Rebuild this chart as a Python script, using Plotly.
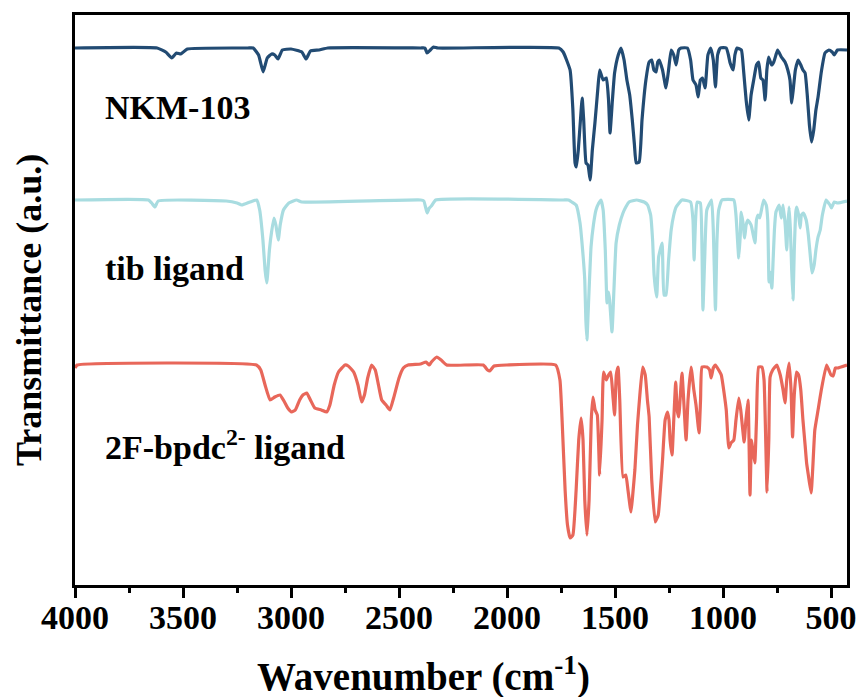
import plotly.graph_objects as go

# Wavenumber (cm-1) and plotted signal (a.u., larger = deeper absorption, axis inverted)
nkm_wn = [4000, 3620, 3580, 3552, 3530, 3510, 3480, 3200, 3175, 3150, 3129, 3110, 3090, 3075, 3060, 3040, 3000, 2950, 2930, 2910, 2870, 2830, 2400, 2380, 2370, 2355, 2340, 2320,
          1760, 1740, 1708, 1695, 1685, 1679, 1670, 1660, 1652, 1645, 1634, 1625, 1615, 1605, 1593, 1580, 1571, 1555, 1540, 1530, 1523, 1512, 1502, 1485, 1472, 1458, 1445, 1432,
          1420, 1410, 1402, 1388, 1375, 1357, 1342, 1330, 1320, 1310, 1302, 1295, 1280, 1264, 1252, 1240, 1228, 1217, 1205, 1194, 1165, 1150, 1139, 1125, 1115, 1105, 1095, 1083,
          1070, 1057, 1045, 1035, 1025, 1013, 985, 975, 967, 953, 945, 935, 915, 905, 893, 881, 870, 858, 845, 835, 825, 815, 805, 797, 789, 775, 765, 755, 747, 730, 713, 700,
          690, 682, 675, 665, 652, 640, 630, 620, 610, 600, 590, 580, 570, 560, 545, 528, 510, 495, 485, 470, 426]
nkm_sig = [48, 48, 52, 58, 53, 54, 49, 48, 48, 55, 72, 58, 54, 55, 59, 50, 49, 52, 59, 51, 50, 48, 48, 48, 53, 50, 47, 48,
           48, 52, 70, 110, 163, 167, 150, 120, 98, 120, 163, 165, 180, 150, 123, 90, 70, 80, 78, 100, 133, 100, 73, 55, 48, 60, 80, 95,
           120, 145, 163, 162, 120, 80, 62, 60, 70, 72, 62, 60, 70, 88, 70, 50, 55, 65, 50, 48, 48, 60, 80, 85, 97, 80, 78, 88,
           55, 48, 60, 87, 55, 48, 48, 55, 63, 70, 55, 48, 50, 70, 100, 120, 95, 80, 65, 62, 78, 80, 100, 70, 57, 65, 62, 55, 50, 57, 62, 70,
           80, 103, 90, 70, 60, 65, 70, 73, 95, 125, 142, 130, 110, 97, 72, 53, 50, 52, 55, 50, 50]

tib_wn = [4000, 3660, 3645, 3630, 3615, 3300, 3250, 3228, 3190, 3159, 3145, 3130, 3120, 3112, 3100, 3090, 3079, 3070, 3059, 3050, 3035, 3010, 2974, 2950, 2400, 2385, 2370, 2360, 2350, 2330,
          1740, 1715, 1700, 1680, 1662, 1650, 1640, 1635, 1630, 1622, 1611, 1600, 1588, 1575, 1565, 1555, 1545, 1537, 1530, 1525, 1514, 1505, 1495, 1480, 1463, 1450, 1435, 1400,
          1365, 1349, 1335, 1326, 1319, 1307, 1298, 1282, 1273, 1264, 1252, 1240, 1228, 1217, 1190, 1150, 1139, 1134, 1127, 1120, 1105, 1098, 1093, 1085, 1075, 1053, 1045, 1035,
          1028, 1020, 1005, 950, 940, 927, 920, 916, 908, 900, 893, 885, 870, 860, 852, 845, 838, 830, 812, 800, 793, 787, 782, 774, 768, 762, 755, 740, 730, 722, 712, 705,
          700, 694, 688, 682, 676, 670, 663, 659, 650, 643, 637, 628, 615, 605, 595, 588, 578, 570, 560, 550, 540, 523, 505, 498, 485, 470, 426]
tib_sig = [200, 200, 203, 207, 201, 201, 203, 205, 202, 200, 210, 240, 270, 283, 250, 232, 218, 225, 240, 225, 210, 203, 200, 202, 200, 201, 213, 208, 206, 200,
           200, 200, 202, 205, 223, 250, 280, 320, 340, 300, 247, 225, 210, 203, 200, 210, 250, 303, 292, 300, 332, 290, 243, 225, 213, 207, 202, 200,
           202, 205, 215, 240, 275, 297, 257, 243, 295, 295, 260, 230, 215, 207, 200, 202, 220, 260, 220, 202, 203, 240, 310, 260, 210, 200, 230, 310,
           240, 210, 200, 200, 215, 258, 235, 212, 222, 238, 225, 220, 225, 235, 243, 220, 215, 218, 200, 205, 220, 282, 272, 288, 260, 230, 212, 205, 218, 205, 225, 250,
           225, 207, 230, 270, 300, 250, 212, 207, 215, 228, 215, 213, 220, 235, 258, 273, 265, 250, 237, 230, 215, 200, 205, 208, 202, 203, 201]

bpdc_wn = [4000, 3990, 3160, 3140, 3120, 3097, 3075, 3051, 3030, 3015, 2997, 2980, 2960, 2945, 2927, 2910, 2890, 2860, 2835, 2820, 2800, 2780, 2750, 2735, 2710, 2690, 2673, 2660,
           2645, 2627, 2610, 2595, 2580, 2560, 2542, 2525, 2500, 2480, 2458, 2400, 2375, 2360, 2350, 2325, 2305, 2279, 2110, 2090, 2080, 2060, 2000,
           1775, 1755, 1745, 1731, 1720, 1708, 1695, 1680, 1668, 1657, 1648, 1640, 1630, 1620, 1610, 1602, 1592, 1582, 1571, 1560, 1553, 1540, 1530, 1520, 1510, 1502, 1494,
           1486, 1478, 1463, 1450, 1440, 1426, 1418, 1408, 1396, 1385, 1372, 1360, 1350, 1342, 1330, 1314, 1300, 1290, 1280, 1268, 1257, 1250, 1245, 1236, 1228, 1219, 1212,
           1205, 1190, 1182, 1171, 1162, 1148, 1135, 1125, 1111, 1104, 1097, 1075, 1062, 1055, 1045, 1035, 1020, 1008, 995, 985, 973, 963, 950, 940, 927, 918, 902, 894, 884,
           875, 868, 862, 853, 845, 835, 820, 810, 796, 788, 782, 770, 751, 735, 722, 713, 705, 694, 685, 678, 670, 660, 650, 640, 630, 620, 613, 605, 592, 585, 575, 560,
           545, 521, 510, 500, 490, 480, 470, 426]
bpdc_sig = [368, 365, 365, 370, 385, 400, 397, 395, 402, 408, 412, 410, 400, 395, 393, 400, 408, 410, 412, 405, 385, 372, 365, 366, 372, 385, 402, 395,
            378, 365, 370, 385, 400, 405, 410, 398, 378, 368, 365, 364, 362, 365, 362, 357, 360, 365, 365, 370, 371, 366, 365,
            365, 380, 420, 490, 525, 538, 535, 490, 440, 418, 440, 500, 535, 500, 420, 397, 410, 415, 475, 420, 372, 380, 375, 372, 395, 415, 375,
            367, 400, 477, 475, 490, 512, 495, 470, 425, 395, 367, 375, 400, 417, 480, 522, 515, 490, 460, 420, 412, 420, 440, 455, 420, 382, 410,
            417, 373, 400, 440, 400, 367, 390, 405, 433, 400, 367, 367, 370, 378, 368, 365, 370, 375, 393, 410, 448, 443, 440, 420, 398, 410, 442, 420, 400,
            495, 440, 450, 463, 420, 367, 367, 380, 492, 440, 377, 370, 365, 375, 390, 403, 380, 363, 390, 437, 395, 372, 375, 390, 420, 445, 463, 475, 493, 470, 430, 410,
            390, 365, 370, 375, 376, 368, 368, 365]

series_names = ["NKM-103", "tib ligand", "2F-bpdc<sup>2-</sup> ligand"]
series_colors = ["#224B73", "#A8DCE0", "#E8675A"]
label_pos = [(103, 107), (103, 268), (103, 445)]  # label anchors in px

x_ticks = [4000, 3500, 3000, 2500, 2000, 1500, 1000, 500]
x_minor = [3750, 3250, 2750, 2250, 1750, 1250, 750]

FONT = "Liberation Serif"

fig = go.Figure()
for wn, sig, name, col in zip([nkm_wn, tib_wn, bpdc_wn], [nkm_sig, tib_sig, bpdc_sig], series_names, series_colors):
    fig.add_trace(go.Scatter(x=wn, y=sig, mode="lines", name=name,
                             line=dict(color=col, width=3.2, shape="spline", smoothing=0.4),
                             showlegend=False))

W, H = 858, 697
L, R, T, B = 75, 11, 15, 112
PW, PH = W - L - R, H - T - B


def paper_x(px):
    return (px - L) / PW


def paper_y(py):
    return 1 - (py - T) / PH


for name, (px, py) in zip(series_names, label_pos):
    fig.add_annotation(x=paper_x(px), y=paper_y(py), xref="paper", yref="paper",
                       xanchor="left", yanchor="middle",
                       text="<b>" + name + "</b>", showarrow=False,
                       font=dict(family=FONT, size=34, color="black"))

# axis titles
fig.add_annotation(x=paper_x(423), y=paper_y(674), xref="paper", yref="paper",
                   xanchor="center", yanchor="middle", showarrow=False,
                   text="<b>Wavenumber (cm<sup>-1</sup>)</b>",
                   font=dict(family=FONT, size=39, color="black"))
fig.add_annotation(x=paper_x(29), y=paper_y(310), xref="paper", yref="paper",
                   xanchor="center", yanchor="middle", showarrow=False, textangle=-90,
                   text="<b>Transmittance (a.u.)</b>",
                   font=dict(family=FONT, size=36, color="black"))

fig.update_layout(
    width=W, height=H,
    margin=dict(l=L, r=R, t=T, b=B, autoexpand=False),
    plot_bgcolor="white", paper_bgcolor="white",
    font=dict(family=FONT, color="black"),
    xaxis=dict(range=[4000, 426], tickmode="array",
               tickvals=x_ticks,
               ticktext=["<b>%d</b>" % v for v in x_ticks],
               ticks="outside", ticklen=10, tickwidth=3, tickcolor="black",
               minor=dict(tickvals=x_minor, ticks="outside", ticklen=5, tickwidth=3, tickcolor="black"),
               tickfont=dict(family=FONT, size=34),
               ticklabelstandoff=-10,
               showline=True, linewidth=3, linecolor="black", mirror=True,
               showgrid=False, zeroline=False, automargin=False),
    yaxis=dict(range=[585, 15], showticklabels=False, ticks="",
               showline=True, linewidth=3, linecolor="black", mirror=True,
               showgrid=False, zeroline=False, automargin=False),
)

fig.write_html("out.html", config={"displayModeBar": False},
               post_script="document.body.style.margin='0';document.body.style.padding='0';")
